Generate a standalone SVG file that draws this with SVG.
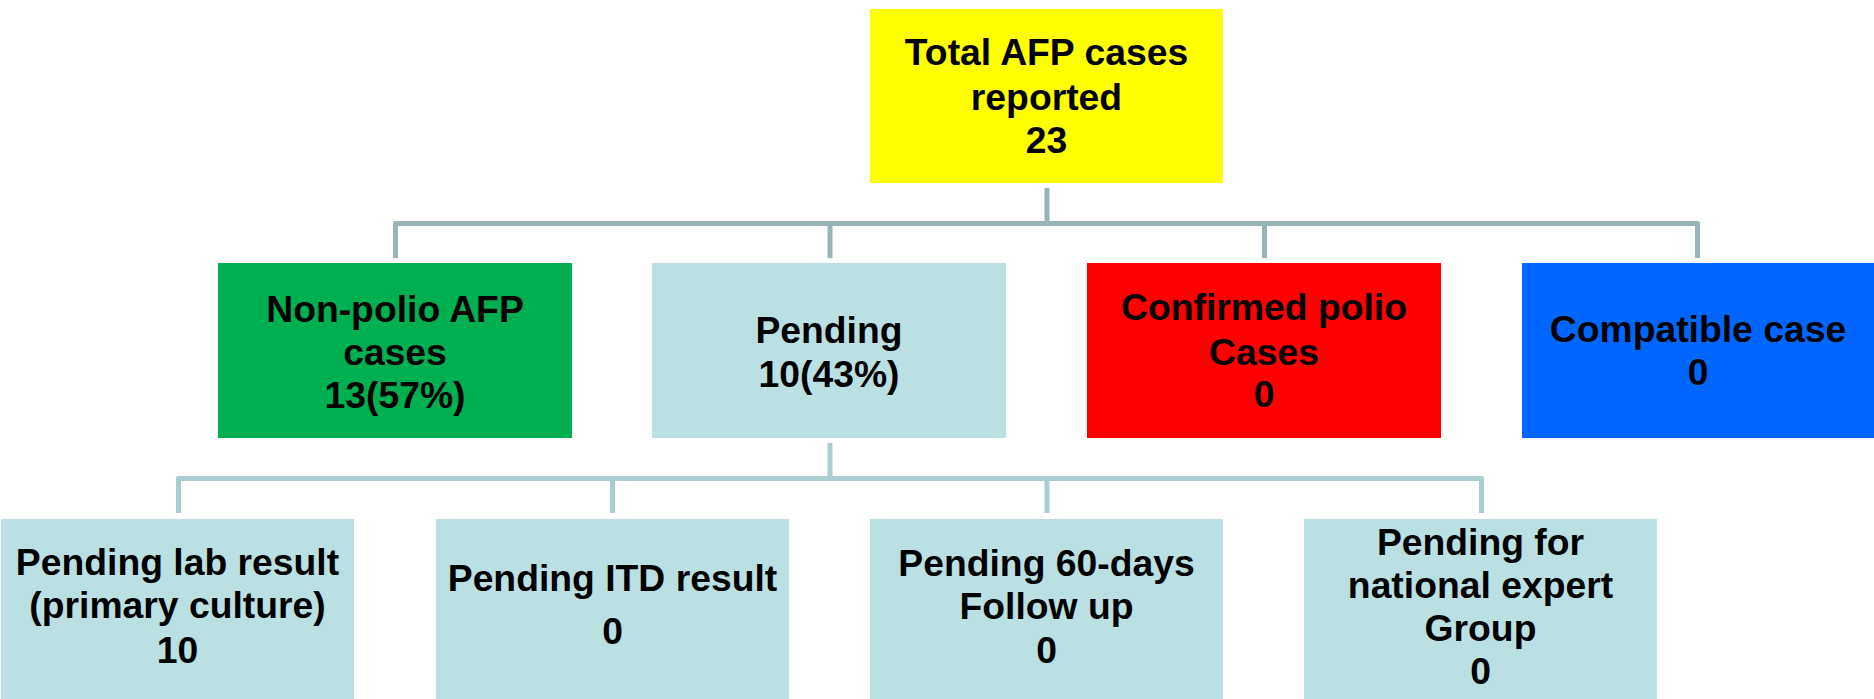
<svg xmlns="http://www.w3.org/2000/svg" width="1874" height="699" viewBox="0 0 1874 699">
<style>
.t{font-family:"Liberation Sans",Arial,sans-serif;font-weight:bold;font-size:37.3px;fill:#000;text-anchor:middle}
.c1{fill:none;stroke:#98B4B9;stroke-width:5;stroke-linejoin:round}
.c2{fill:none;stroke:#A9CDD0;stroke-width:5;stroke-linejoin:round}
.lb{fill:#BBE0E3}
</style>
<rect width="1874" height="699" fill="#FFFFFF"/>
<g id="connectors">
<path class="c1" d="M1047,188 V223.5"/>
<path class="c1" d="M395.5,258 V223.5 H1697.5 V258"/>
<path class="c1" d="M830,223.5 V258"/>
<path class="c1" d="M1264.5,223.5 V258"/>
<path class="c2" d="M830,443 V478.5"/>
<path class="c2" d="M178.5,513 V478.5 H1481.5 V513"/>
<path class="c2" d="M612.5,478.5 V513"/>
<path class="c2" d="M1047,478.5 V513"/>
</g>
<g id="total">
<rect x="870" y="9" width="353" height="174" fill="#FFFF00"/>
<text class="t" x="1046.5" y="65">Total AFP cases</text>
<text class="t" x="1046.5" y="110">reported</text>
<text class="t" x="1046.5" y="153">23</text>
</g>
<g id="nonpolio">
<rect x="218" y="263" width="354" height="175" fill="#00B050"/>
<text class="t" x="395" y="322">Non-polio AFP</text>
<text class="t" x="395" y="365">cases</text>
<text class="t" x="395" y="408">13(57%)</text>
</g>
<g id="pending">
<rect class="lb" x="652" y="263" width="354" height="175"/>
<text class="t" x="829" y="343">Pending</text>
<text class="t" x="829" y="387">10(43%)</text>
</g>
<g id="confirmed">
<rect x="1087" y="263" width="354" height="175" fill="#FF0000"/>
<text class="t" x="1264" y="320">Confirmed polio</text>
<text class="t" x="1264" y="365">Cases</text>
<text class="t" x="1264" y="407">0</text>
</g>
<g id="compatible">
<rect x="1522" y="263" width="354" height="175" fill="#0066FF"/>
<text class="t" x="1698" y="342">Compatible case</text>
<text class="t" x="1698" y="385">0</text>
</g>
<g id="lab">
<rect class="lb" x="1" y="519" width="353" height="180"/>
<text class="t" x="177.5" y="575">Pending lab result</text>
<text class="t" x="177.5" y="618">(primary culture)</text>
<text class="t" x="177.5" y="663">10</text>
</g>
<g id="itd">
<rect class="lb" x="436" y="519" width="353" height="180"/>
<text class="t" x="612.5" y="591">Pending ITD result</text>
<text class="t" x="612.5" y="644">0</text>
</g>
<g id="followup">
<rect class="lb" x="870" y="519" width="353" height="180"/>
<text class="t" x="1046.5" y="576">Pending 60-days</text>
<text class="t" x="1046.5" y="619">Follow up</text>
<text class="t" x="1046.5" y="663">0</text>
</g>
<g id="expert">
<rect class="lb" x="1304" y="519" width="353" height="180"/>
<text class="t" x="1480.5" y="555">Pending for</text>
<text class="t" x="1480.5" y="598">national expert</text>
<text class="t" x="1480.5" y="641">Group</text>
<text class="t" x="1480.5" y="684">0</text>
</g>
</svg>
